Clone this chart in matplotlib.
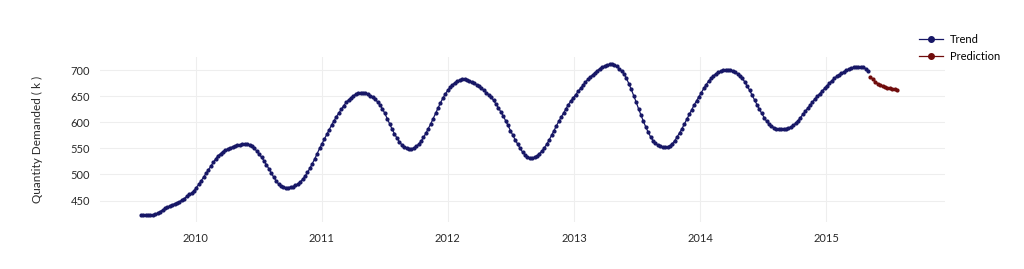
import matplotlib.pyplot as plt
import matplotlib.dates as mdates
import pandas as pd

plt.rcParams['font.family'] = ['Lato', 'DejaVu Sans']

# weekly trend values (k), starting late July 2009
trend_start = '2009-07-26'
trend = [
    422, 422, 422, 422, 422, 423, 424, 426, 429, 432, 435, 437, 440, 442, 444, 446,
    448, 451, 454, 458, 462, 464, 469, 475, 481, 488, 495, 502, 509, 516, 523, 530,
    536, 540, 544, 547, 549, 551, 553, 555, 556, 557, 558, 558, 558, 557, 554, 550,
    545, 539, 533, 526, 519, 511, 503, 495, 488, 482, 478, 476, 475, 475, 476, 477,
    479, 482, 486, 491, 497, 504, 512, 521, 530, 540, 550, 559, 568, 577, 586, 595,
    603, 611, 618, 625, 632, 638, 643, 647, 651, 654, 656, 657, 657, 656, 654, 651,
    648, 644, 639, 633, 626, 617, 607, 597, 587, 578, 570, 563, 557, 553, 550, 549,
    549, 551, 554, 558, 564, 571, 579, 588, 597, 607, 617, 627, 637, 646, 654, 661,
    667, 672, 676, 679, 681, 682, 682, 681, 679, 677, 675, 672, 669, 665, 661, 657,
    653, 648, 642, 635, 628, 620, 612, 603, 594, 584, 575, 566, 558, 550, 543, 538,
    534, 532, 532, 533, 536, 540, 545, 551, 558, 566, 575, 584, 593, 602, 610, 618,
    626, 634, 641, 647, 653, 659, 665, 671, 677, 682, 687, 691, 695, 699, 703, 706,
    708, 710, 711, 711, 710, 707, 703, 698, 693, 684, 674, 663, 651, 639, 626, 614,
    602, 591, 581, 572, 565, 560, 556, 554, 553, 552, 553, 555, 559, 565, 572, 580,
    588, 597, 606, 615, 624, 633, 641, 649, 657, 665, 672, 679, 684, 689, 693, 696,
    698, 700, 701, 701, 700, 698, 696, 693, 689, 684, 677, 669, 661, 652, 643, 634,
    625, 617, 609, 602, 597, 593, 590, 588, 587, 587, 587, 588, 589, 591, 594, 598,
    603, 609, 615, 621, 627, 633, 639, 645, 650, 655, 660, 665, 670, 675, 680, 684,
    688, 691, 694, 697, 700, 702, 704, 705, 706, 706, 706, 705, 703, 698,
]
prediction = [687, 682, 678, 674, 671, 669, 667, 666, 665, 664, 663, 662]

trend_dates = pd.date_range(trend_start, periods=len(trend), freq='7D')
pred_dates = pd.date_range(trend_dates[-1] + pd.Timedelta(days=7), periods=len(prediction), freq='7D')

fig = plt.figure(figsize=(10.24, 2.69), dpi=100)
ax = fig.add_axes([0.0977, 0.1747, 0.8252, 0.6133])

ax.plot(trend_dates, trend, color='#171766', marker='o', ms=2.0, lw=0.9, label='Trend')
ax.plot(pred_dates, prediction, color='#700c0c', marker='o', ms=2.0, lw=0.9, label='Prediction')

ax.set_xlim(pd.Timestamp('2009-03-30'), pd.Timestamp('2015-12-12'))
ax.set_ylim(409, 725)
ax.set_yticks([450, 500, 550, 600, 650, 700])
ax.xaxis.set_major_locator(mdates.YearLocator())
ax.xaxis.set_major_formatter(mdates.DateFormatter('%Y'))
ax.tick_params(length=0, labelsize=8, colors='#2a2a2a', pad=8)
ax.tick_params(axis='y', pad=7)
for s in ax.spines.values():
    s.set_visible(False)
ax.grid(color='#eeeeee', lw=0.8)
ax.set_axisbelow(True)
ax.set_ylabel('Quantity Demanded ( k )', fontsize=8.5, color='#2a2a2a', labelpad=20)

ax.legend(loc='upper left', bbox_to_anchor=(0.957, 1.20), frameon=False, fontsize=8,
          handlelength=2.2, handletextpad=0.6, labelspacing=0.5, markerscale=2.0)

fig.savefig('out.png', dpi=100)
